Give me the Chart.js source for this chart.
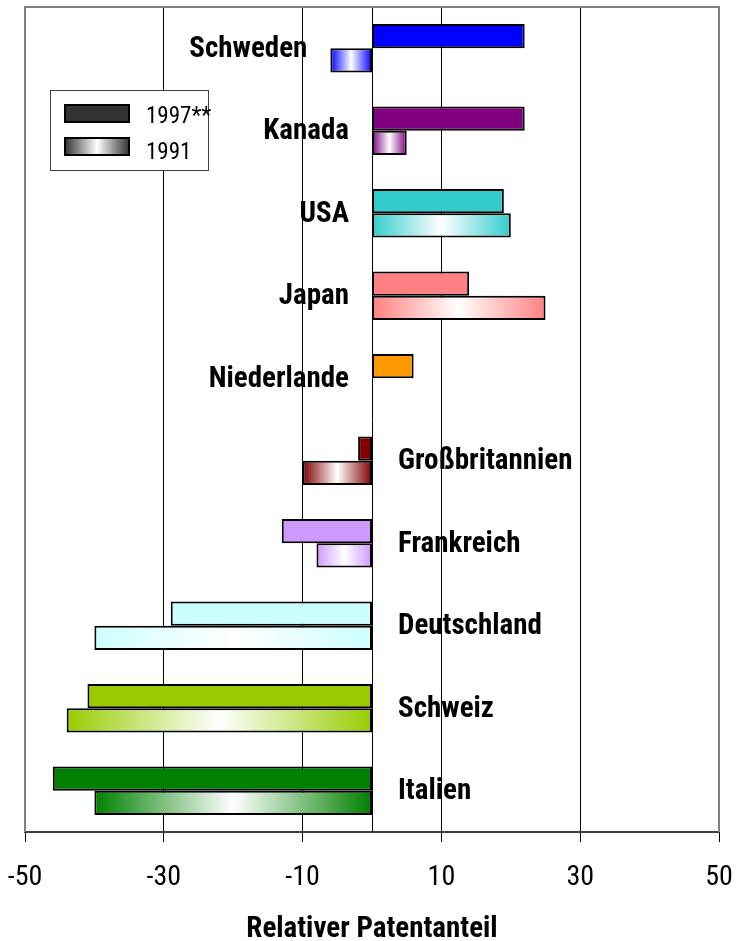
<!DOCTYPE html>
<html>
<head>
<meta charset="utf-8">
<script src="https://cdn.jsdelivr.net/npm/chart.js@4.4.1/dist/chart.umd.min.js"></script>
<style>
body { margin: 0; background: #fff; }
#wrap { width: 737px; height: 941px; }
</style>
</head>
<body>
<div id="wrap"><canvas id="patentChart" width="737" height="941"></canvas></div>
<script>
const countries = ["Schweden", "Kanada", "USA", "Japan", "Niederlande", "Großbritannien", "Frankreich", "Deutschland", "Schweiz", "Italien"];
const share1997 = [22, 22, 19, 14, 6, -2, -13, -29, -41, -46];
const share1991 = [-6, 5, 20, 25, null, -10, -8, -40, -44, -40];
const countryColors = ["#0000FF", "#800080", "#33CCCC", "#FF8080", "#FF9900", "#800000", "#CC99FF", "#CCFFFF", "#99CC00", "#008000"];
const xTicks = [-50, -30, -10, 10, 30, 50];
const seriesNames = ["1997**", "1991"];

const narrow = '"Roboto Condensed", "Open Sans Condensed", "Liberation Sans", sans-serif';

// 1991 bars: colour at both ends, white in the middle
function fadeFill(context) {
    const chart = context.chart;
    const color = countryColors[context.dataIndex];
    const v = context.raw;
    const x = chart.scales.x;
    if (v == null || !x) return color;
    const a = x.getPixelForValue(0), b = x.getPixelForValue(v);
    if (!isFinite(a) || !isFinite(b) || a === b) return color;
    const g = chart.ctx.createLinearGradient(Math.min(a, b), 0, Math.max(a, b), 0);
    g.addColorStop(0, color);
    g.addColorStop(0.5, "#FFFFFF");
    g.addColorStop(1, color);
    return g;
}

const chartExtras = {
    id: "chartExtras",
    beforeDatasetsDraw(chart) {
        const {ctx, chartArea: area, scales: {x}} = chart;
        const zx = Math.round(x.getPixelForValue(0)) + 0.5;
        ctx.save();
        ctx.strokeStyle = "#000";
        ctx.lineWidth = 1;
        ctx.beginPath();
        ctx.moveTo(zx, area.top);
        ctx.lineTo(zx, area.bottom);
        ctx.stroke();
        ctx.restore();
    },
    afterDatasetsDraw(chart) {
        const {ctx, scales: {x, y}} = chart;
        ctx.save();
        ctx.font = "bold 29px " + narrow;
        ctx.fillStyle = "#000";
        ctx.textBaseline = "middle";
        countries.forEach((name, i) => {
            const vals = [share1997[i], share1991[i]].filter(v => v != null);
            const cy = y.getPixelForValue(i) + 1;
            if (Math.max(...vals) > 0) {
                ctx.textAlign = "right";
                ctx.fillText(name, x.getPixelForValue(Math.min(0, ...vals)) - 23, cy);
            } else {
                ctx.textAlign = "left";
                ctx.fillText(name, x.getPixelForValue(Math.max(0, ...vals)) + 26, cy);
            }
        });
        ctx.restore();
    },
    afterDraw(chart) {
        const {ctx, chartArea: area} = chart;
        ctx.save();
        // frame
        ctx.strokeStyle = "#808080";
        ctx.lineWidth = 2;
        ctx.beginPath();
        ctx.moveTo(area.left, area.bottom);
        ctx.lineTo(area.left, area.top);
        ctx.lineTo(area.right, area.top);
        ctx.lineTo(area.right, area.bottom);
        ctx.stroke();

        // legend
        ctx.fillStyle = "#fff";
        ctx.fillRect(50, 90, 158, 80);
        ctx.strokeStyle = "#404040";
        ctx.lineWidth = 1;
        ctx.strokeRect(50.5, 90.5, 158, 80);

        ctx.lineWidth = 2;
        ctx.strokeStyle = "#000";
        ctx.fillStyle = "#333333";
        ctx.fillRect(65, 105, 64, 17);
        ctx.strokeRect(65, 105, 64, 17);
        const g = ctx.createLinearGradient(65, 0, 129, 0);
        g.addColorStop(0, "#333333");
        g.addColorStop(0.5, "#FFFFFF");
        g.addColorStop(1, "#333333");
        ctx.fillStyle = g;
        ctx.fillRect(65, 138, 64, 17);
        ctx.strokeRect(65, 138, 64, 17);

        ctx.fillStyle = "#000";
        ctx.font = "23px " + narrow;
        ctx.textAlign = "left";
        ctx.textBaseline = "middle";
        ctx.fillText(seriesNames[0], 146, 117);
        ctx.fillText(seriesNames[1], 146, 153);
        ctx.restore();
    }
};

new Chart(document.getElementById("patentChart"), {
    type: "bar",
    data: {
        labels: countries,
        datasets: [{
            label: seriesNames[0],
            data: share1997,
            backgroundColor: countryColors,
            borderColor: "#000",
            borderWidth: 2,
            borderSkipped: false
        }, {
            label: seriesNames[1],
            data: share1991,
            backgroundColor: fadeFill,
            borderColor: "#000",
            borderWidth: 2,
            borderSkipped: false
        }]
    },
    options: {
        indexAxis: "y",
        responsive: false,
        animation: false,
        datasets: {
            bar: { barPercentage: 1.0, categoryPercentage: 0.59 }
        },
        layout: {
            padding: { left: 25, right: 18, top: 7, bottom: 0 }
        },
        plugins: {
            legend: { display: false },
            tooltip: { enabled: false }
        },
        scales: {
            x: {
                type: "linear",
                min: -50,
                max: 50,
                afterBuildTicks: axis => { axis.ticks = xTicks.map(v => ({value: v})); },
                afterFit: axis => {
                    axis.paddingLeft = 0;
                    axis.paddingRight = 0;
                    axis.height = 109;
                },
                grid: {
                    color: c => (c.tick && Math.abs(c.tick.value) === 50) ? "rgba(0,0,0,0)" : "#000",
                    tickColor: "#000",
                    tickLength: 10,
                    lineWidth: 1
                },
                border: { color: "#404040", width: 2 },
                ticks: {
                    color: "#000",
                    font: { size: 28, family: narrow },
                    padding: 19,
                    maxRotation: 0
                },
                title: {
                    display: true,
                    text: "Relativer Patentanteil",
                    color: "#000",
                    font: { size: 29, weight: "bold", family: narrow, lineHeight: 1.1 },
                    padding: { top: 0, bottom: -5 }
                }
            },
            y: {
                type: "category",
                display: false
            }
        }
    },
    plugins: [chartExtras]
});
</script>
</body>
</html>
